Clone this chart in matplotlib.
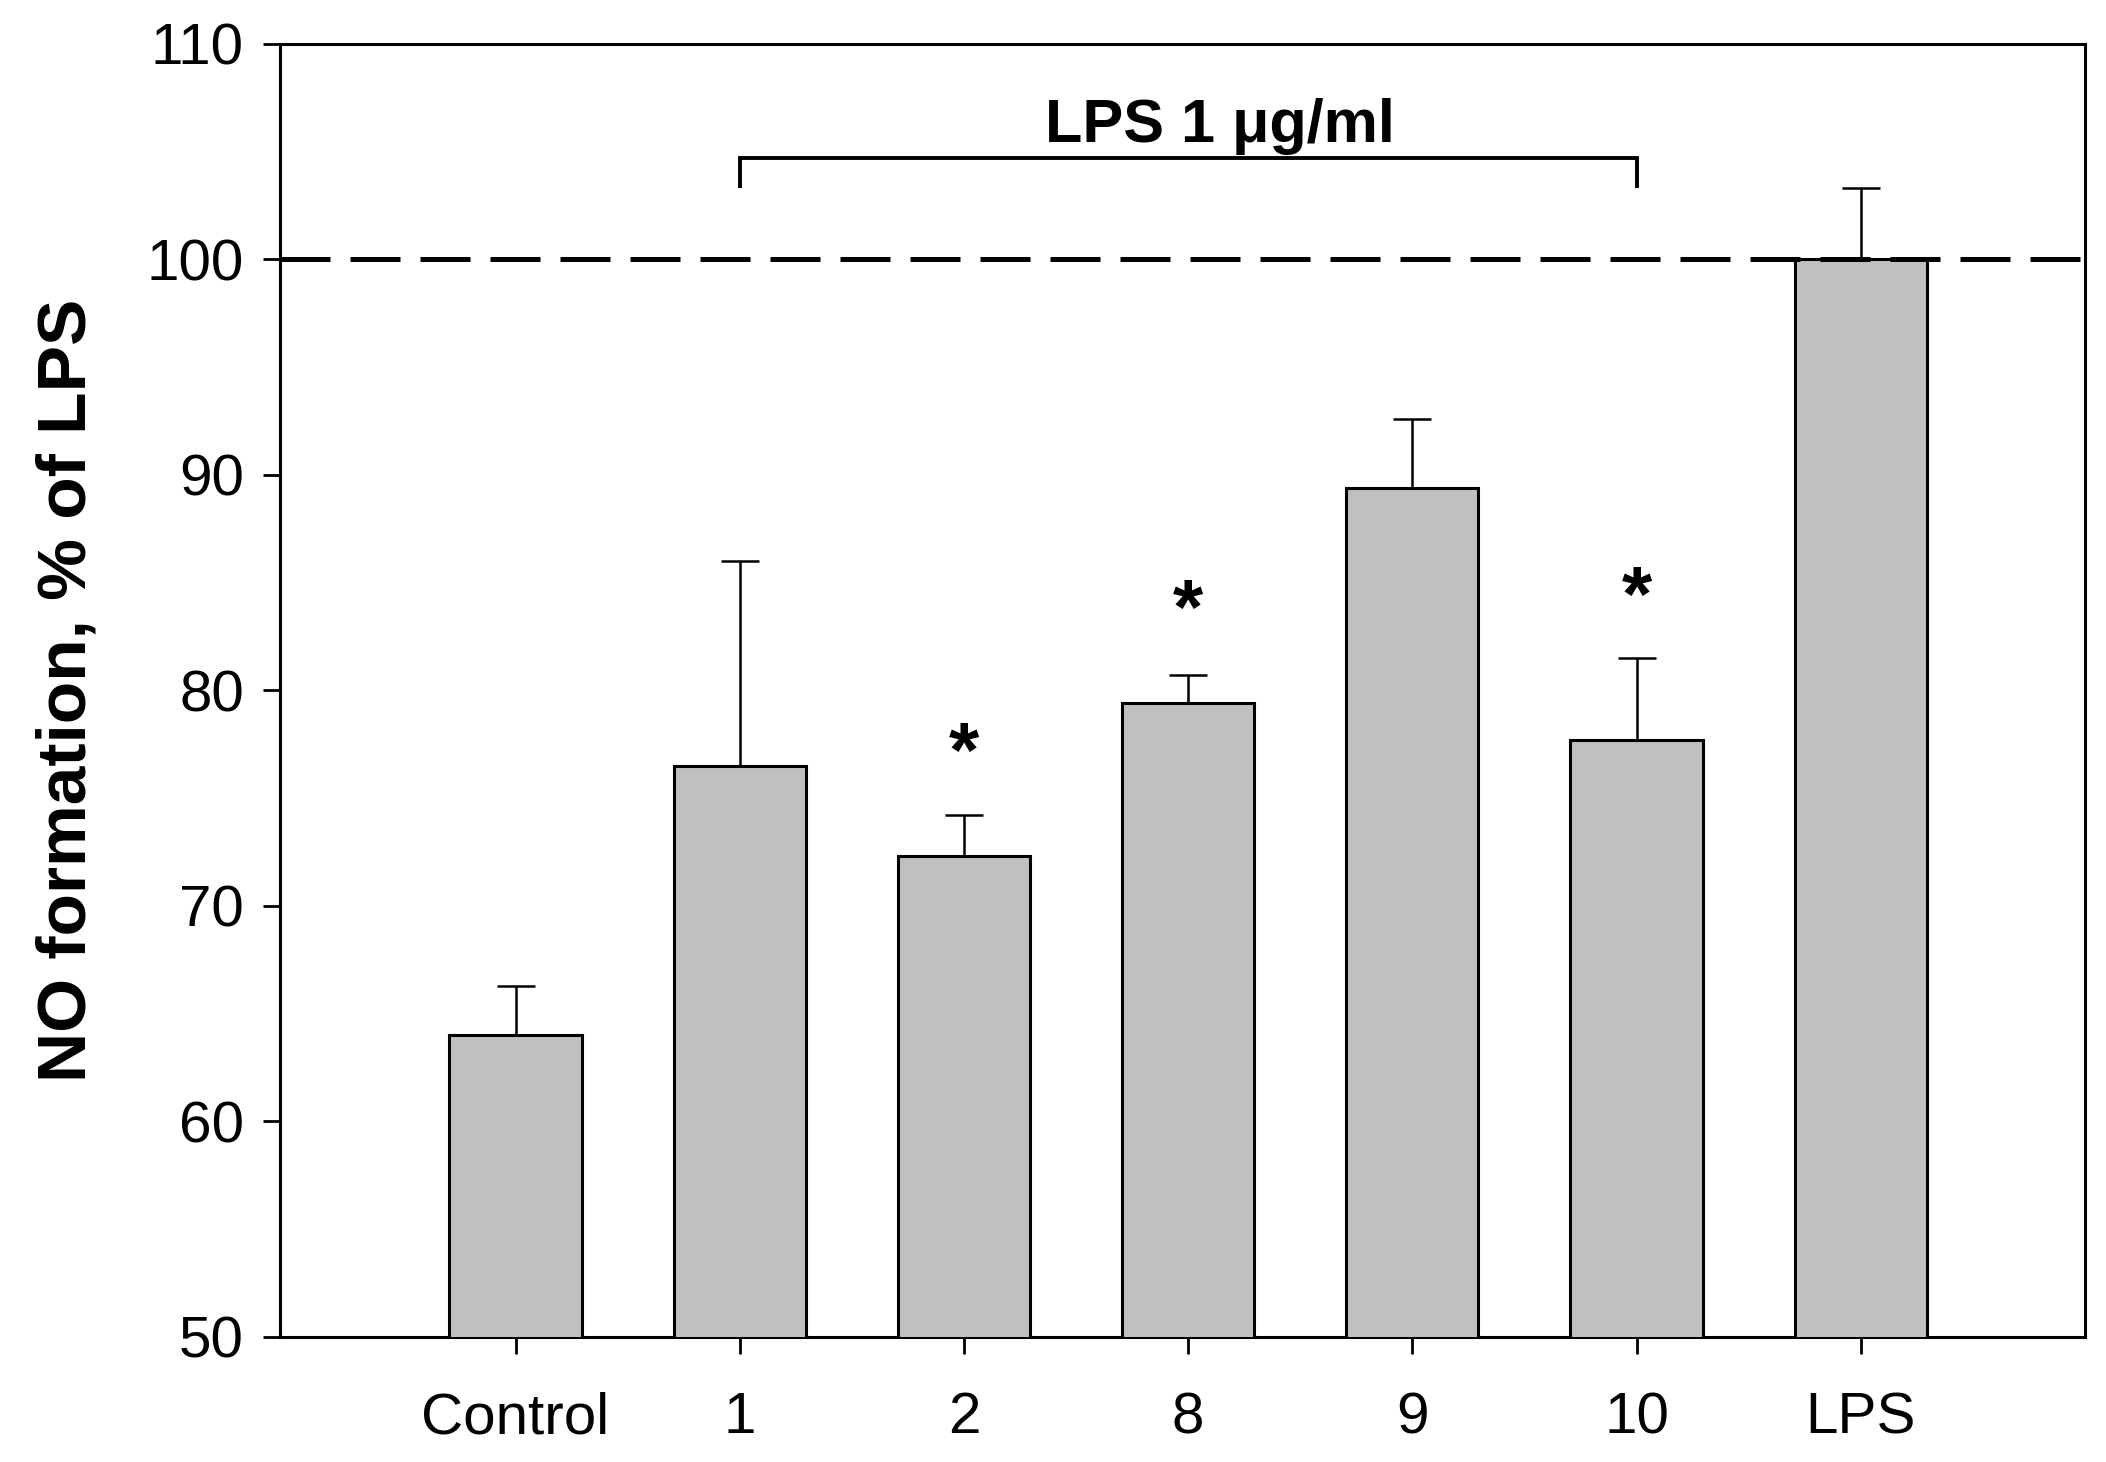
import matplotlib
matplotlib.use("Agg")
import matplotlib.pyplot as plt
import numpy as np

categories = ["Control", "1", "2", "8", "9", "10", "LPS"]
means = [64.0, 76.5, 72.3, 79.4, 89.4, 77.7, 100.0]
err_upper = [2.3, 9.5, 1.9, 1.3, 3.2, 3.8, 3.3]
star_groups = ["2", "8", "10"]
star_y = [78.0, 84.6, 85.2]
bracket_from, bracket_to = "1", "10"
bracket_label = "LPS 1 \u03bcg/ml"
yticks = [50, 60, 70, 80, 90, 100, 110]

plt.rcParams['font.family'] = ['Liberation Sans', 'DejaVu Sans']

fig = plt.figure(figsize=(21.06, 14.62), dpi=100)
ax = fig.add_axes([0.133, 0.0855, 0.857, 0.8845])

x = np.arange(len(categories))
ax.bar(x, means, width=0.59, color="#c0c0c0", edgecolor="black", linewidth=2.2, zorder=3)
ax.errorbar(x, means, yerr=[np.zeros(len(means)), err_upper], fmt="none",
            ecolor="black", elinewidth=1.8, capsize=13.5, capthick=1.8, zorder=2)

ax.axhline(100, color="black", linewidth=3.6, dashes=(10, 4), zorder=4)

for g, sy in zip(star_groups, star_y):
    ax.annotate("*", xy=(categories.index(g), sy), xytext=(0, -31), textcoords="offset points",
                ha="center", va="baseline", fontsize=56, fontweight="bold", zorder=5)

xa = categories.index(bracket_from)
xb = categories.index(bracket_to)
ax.plot([xa, xa, xb, xb], [103.3, 104.7, 104.7, 103.3], color="black", linewidth=2.8,
        solid_joinstyle="miter", solid_capstyle="butt", clip_on=False)
ax.text(3.14, 105.45, bracket_label, ha="center", va="baseline", fontsize=44, fontweight="bold")

ax.set_xlim(-1.05, 7.0)
ax.set_ylim(50, 110)
ax.set_yticks(yticks)
ax.set_xticks(x)
ax.set_xticklabels(categories)
ax.tick_params(axis="both", direction="out", length=12, width=2, labelsize=42)
ax.tick_params(axis="y", pad=14)
ax.tick_params(axis="x", pad=27)
for s in ax.spines.values():
    s.set_linewidth(2.2)
ax.set_ylabel("NO formation, % of LPS", fontsize=50, fontweight="bold", labelpad=34)

fig.savefig("out.png", dpi=100)
